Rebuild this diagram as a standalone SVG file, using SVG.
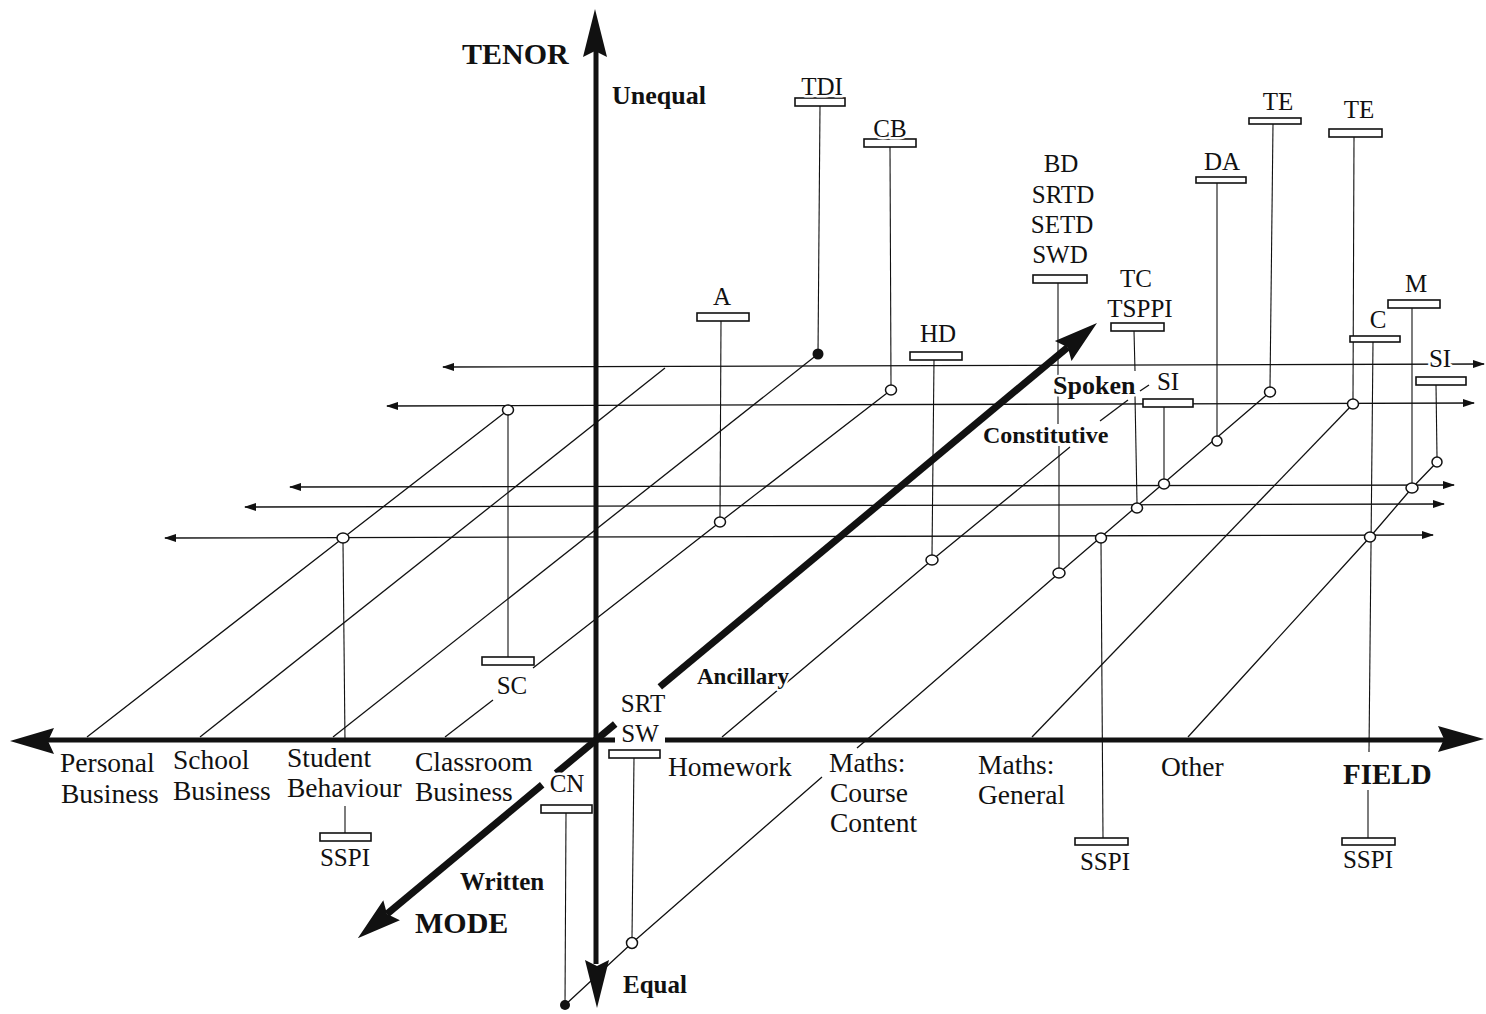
<svg xmlns="http://www.w3.org/2000/svg" width="1486" height="1014" viewBox="0 0 1486 1014">
<style>
text{font-family:"Liberation Serif","Times New Roman",serif;fill:#111;paint-order:stroke;stroke:#fff;stroke-width:5px;stroke-linejoin:round}
.lab{font-size:25px;text-anchor:middle}
.fld{font-size:27.5px}
.b{font-weight:bold}
.thin{stroke:#111;stroke-width:1.3;fill:none}
.stem{stroke:#111;stroke-width:1.1;fill:none}
.bar{fill:#fff;stroke:#111;stroke-width:1.6}
.oc{fill:#fff;stroke:#111;stroke-width:1.5}
.fc{fill:#111}
.ax{stroke:#111;stroke-width:5;fill:none}
.mx{stroke:#111;stroke-width:7;fill:none}
.hd{fill:#111}
.h{stroke:#111;stroke-width:1.3;fill:none}
</style>
<defs>
<marker id="ah" viewBox="0 0 12 8" refX="11" refY="4" markerWidth="12" markerHeight="8" markerUnits="userSpaceOnUse" orient="auto-start-reverse"><path d="M0,0 L12,4 L0,8 z" fill="#111"/></marker>
</defs>
<rect width="1486" height="1014" fill="#fff"/>
<g id="connectors">
<line class="h" x1="443" y1="367" x2="1484" y2="364" marker-start="url(#ah)" marker-end="url(#ah)"/>
<line class="h" x1="387" y1="406" x2="1474" y2="403" marker-start="url(#ah)" marker-end="url(#ah)"/>
<line class="h" x1="290" y1="487" x2="1454" y2="485" marker-start="url(#ah)" marker-end="url(#ah)"/>
<line class="h" x1="245" y1="507" x2="1444" y2="504" marker-start="url(#ah)" marker-end="url(#ah)"/>
<line class="h" x1="165" y1="538" x2="1433" y2="535" marker-start="url(#ah)" marker-end="url(#ah)"/>
<polyline class="thin" points="87,737 343,538 508,410"/>
<polyline class="thin" points="200,737 665,368"/>
<polyline class="thin" points="333,737 818,354"/>
<polyline class="thin" points="445,737 493,700"/>
<polyline class="thin" points="533,668 720,522 891,390"/>
<polyline class="thin" points="722,737 932,560 1070,447"/>
<polyline class="thin" points="1100,421 1128,400"/>
<polyline class="thin" points="1140,391 1149,385"/>
<polyline class="thin" points="565,1005 632,943 822,777"/>
<polyline class="thin" points="857,748 870,737 1059,573 1270,392"/>
<polyline class="thin" points="1032,737 1353,404"/>
<polyline class="thin" points="1188,737 1370,537 1412,488 1437,462"/>
</g>
<g id="axis-tenor">
<line class="ax" x1="596" y1="50" x2="596" y2="964"/>
<polygon class="hd" points="595,9 607,57 595,51 583,57"/>
<polygon class="hd" points="597,1008 585,960 597,966 609,960"/>
</g>
<g id="axis-field">
<line class="ax" x1="48" y1="740" x2="615" y2="740"/>
<line class="ax" x1="665" y1="740" x2="1444" y2="740"/>
<polygon class="hd" points="10,741 54,728 48,741 54,754"/>
<polygon class="hd" points="1484,739 1438,726 1444,739 1438,752"/>
</g>
<g id="axis-mode">
<line class="mx" x1="659.8" y1="686.9" x2="1067.8" y2="347.2"/>
<polygon class="hd" points="1097,322.9 1071.5,361 1067.8,347.2 1054.9,341"/>
<line class="mx" x1="615.2" y1="724" x2="556" y2="773.3"/>
<line class="mx" x1="542.2" y1="784.8" x2="387" y2="914"/>
<polygon class="hd" points="357.8,938.3 383.3,900.2 387,914 399.9,920.2"/>
</g>
<g id="node-TDI">
<line class="stem" x1="820" y1="106" x2="818" y2="354"/>
<rect class="bar" x="795" y="98" width="50" height="8"/>
<circle class="fc" cx="818" cy="354" r="5.5"/>
<text class="lab" x="822" y="95">TDI</text>
</g>
<g id="node-CB">
<line class="stem" x1="890" y1="147" x2="891" y2="385"/>
<rect class="bar" x="864" y="139" width="52" height="8"/>
<ellipse class="oc" cx="891" cy="390" rx="5.5" ry="5"/>
<text class="lab" x="890" y="137">CB</text>
</g>
<g id="node-A">
<line class="stem" x1="721" y1="321" x2="720" y2="517"/>
<rect class="bar" x="697" y="313" width="52" height="8"/>
<ellipse class="oc" cx="720" cy="522" rx="5.5" ry="5"/>
<text class="lab" x="722" y="305">A</text>
</g>
<g id="node-HD">
<line class="stem" x1="934" y1="360" x2="932" y2="555"/>
<rect class="bar" x="910" y="352" width="52" height="8"/>
<ellipse class="oc" cx="932" cy="560" rx="6" ry="5"/>
<text class="lab" x="938" y="342">HD</text>
</g>
<g id="node-BD">
<line class="stem" x1="1058" y1="283" x2="1058" y2="424"/>
<line class="stem" x1="1059" y1="446" x2="1059" y2="568"/>
<rect class="bar" x="1033" y="275" width="54" height="8"/>
<ellipse class="oc" cx="1059" cy="573" rx="6" ry="5"/>
<text class="lab" x="1061" y="172">BD</text>
<text class="lab" x="1063" y="203">SRTD</text>
<text class="lab" x="1062" y="233">SETD</text>
<text class="lab" x="1060" y="263">SWD</text>
</g>
<g id="node-TC">
<line class="stem" x1="1134" y1="331" x2="1135" y2="371"/>
<line class="stem" x1="1135" y1="396" x2="1137" y2="503"/>
<rect class="bar" x="1111" y="323" width="53" height="8"/>
<ellipse class="oc" cx="1137" cy="508" rx="5.5" ry="5"/>
<text class="lab" x="1136" y="287">TC</text>
<text class="lab" x="1140" y="317">TSPPI</text>
</g>
<g id="node-SI1">
<line class="stem" x1="1164" y1="407" x2="1164" y2="479"/>
<rect class="bar" x="1143" y="399" width="50" height="8"/>
<ellipse class="oc" cx="1164" cy="484" rx="5.5" ry="5"/>
<text class="lab" x="1168" y="390">SI</text>
</g>
<g id="node-DA">
<line class="stem" x1="1217" y1="183" x2="1217" y2="436"/>
<rect class="bar" x="1196" y="177" width="50" height="6"/>
<ellipse class="oc" cx="1217" cy="441" rx="5" ry="5"/>
<text class="lab" x="1222" y="170">DA</text>
</g>
<g id="node-TE1">
<line class="stem" x1="1273" y1="124" x2="1270" y2="387"/>
<rect class="bar" x="1249" y="118" width="52" height="6"/>
<ellipse class="oc" cx="1270" cy="392" rx="5.5" ry="5"/>
<text class="lab" x="1278" y="110">TE</text>
</g>
<g id="node-TE2">
<line class="stem" x1="1354" y1="137" x2="1353" y2="399"/>
<rect class="bar" x="1329" y="129" width="53" height="8"/>
<ellipse class="oc" cx="1353" cy="404" rx="5.5" ry="5"/>
<text class="lab" x="1359" y="118">TE</text>
</g>
<g id="node-C">
<line class="stem" x1="1373" y1="342" x2="1369" y2="752"/>
<line class="stem" x1="1368" y1="790" x2="1368" y2="838"/>
<rect class="bar" x="1350" y="336" width="50" height="6"/>
<ellipse class="oc" cx="1370" cy="537" rx="5.5" ry="5"/>
<text class="lab" x="1378" y="328">C</text>
</g>
<g id="node-M">
<line class="stem" x1="1412" y1="308" x2="1412" y2="483"/>
<rect class="bar" x="1388" y="300" width="52" height="8"/>
<ellipse class="oc" cx="1412" cy="488" rx="6" ry="5"/>
<text class="lab" x="1416" y="292">M</text>
</g>
<g id="node-SI2">
<line class="stem" x1="1436" y1="385" x2="1437" y2="457"/>
<rect class="bar" x="1416" y="377" width="50" height="8"/>
<ellipse class="oc" cx="1437" cy="462" rx="5" ry="5"/>
<text class="lab" x="1440" y="367">SI</text>
</g>
<g id="node-SC">
<line class="stem" x1="508" y1="415" x2="508" y2="657"/>
<rect class="bar" x="482" y="657" width="52" height="8"/>
<ellipse class="oc" cx="508" cy="410" rx="5.5" ry="5"/>
<text class="lab" x="512" y="694">SC</text>
</g>
<g id="node-SSPI1">
<line class="stem" x1="343" y1="543" x2="345" y2="742"/>
<line class="stem" x1="345" y1="806" x2="345" y2="833"/>
<rect class="bar" x="320" y="833" width="51" height="8"/>
<ellipse class="oc" cx="343" cy="538" rx="6" ry="5"/>
<text class="lab" x="345" y="866">SSPI</text>
</g>
<g id="node-SSPI2">
<line class="stem" x1="1101" y1="543" x2="1103" y2="838"/>
<rect class="bar" x="1075" y="838" width="53" height="7"/>
<ellipse class="oc" cx="1101" cy="538" rx="5.5" ry="5"/>
<text class="lab" x="1105" y="870">SSPI</text>
</g>
<g id="node-SSPI3">
<rect class="bar" x="1342" y="838" width="53" height="7"/>
<text class="lab" x="1368" y="868">SSPI</text>
</g>
<g id="node-SRT">
<line class="stem" x1="634" y1="758" x2="632" y2="938"/>
<rect class="bar" x="609" y="750" width="51" height="8"/>
<ellipse class="oc" cx="632" cy="943" rx="5.5" ry="5.5"/>
<text class="lab" x="643" y="712">SRT</text>
<text class="lab" x="640" y="742">SW</text>
</g>
<g id="node-CN">
<line class="stem" x1="566" y1="813" x2="565" y2="1005"/>
<rect class="bar" x="541" y="805" width="51" height="8"/>
<circle class="fc" cx="565" cy="1005" r="5"/>
<text class="lab" x="567" y="792">CN</text>
</g>
<g id="axis-labels">
<text class="b" x="462" y="64" font-size="30">TENOR</text>
<text class="b" x="612" y="104" font-size="26">Unequal</text>
<text class="b" x="623" y="993" font-size="25">Equal</text>
<text class="b" x="1343" y="784" font-size="29">FIELD</text>
<text class="b" x="415" y="933" font-size="30">MODE</text>
<text class="b" x="460" y="890" font-size="25">Written</text>
<text class="b" x="697" y="684" font-size="23">Ancillary</text>
<text class="b" x="1053" y="394" font-size="26">Spoken</text>
<text class="b" x="983" y="443" font-size="24">Constitutive</text>
<text class="fld" x="60" y="772">Personal</text>
<text class="fld" x="61" y="803">Business</text>
<text class="fld" x="173" y="769">School</text>
<text class="fld" x="173" y="800">Business</text>
<text class="fld" x="287" y="767">Student</text>
<text class="fld" x="287" y="797">Behaviour</text>
<text class="fld" x="415" y="771">Classroom</text>
<text class="fld" x="415" y="801">Business</text>
<text class="fld" x="668" y="776">Homework</text>
<text class="fld" x="829" y="772">Maths:</text>
<text class="fld" x="830" y="802">Course</text>
<text class="fld" x="830" y="832">Content</text>
<text class="fld" x="978" y="774">Maths:</text>
<text class="fld" x="978" y="804">General</text>
<text class="fld" x="1161" y="776">Other</text>
</g>
</svg>
